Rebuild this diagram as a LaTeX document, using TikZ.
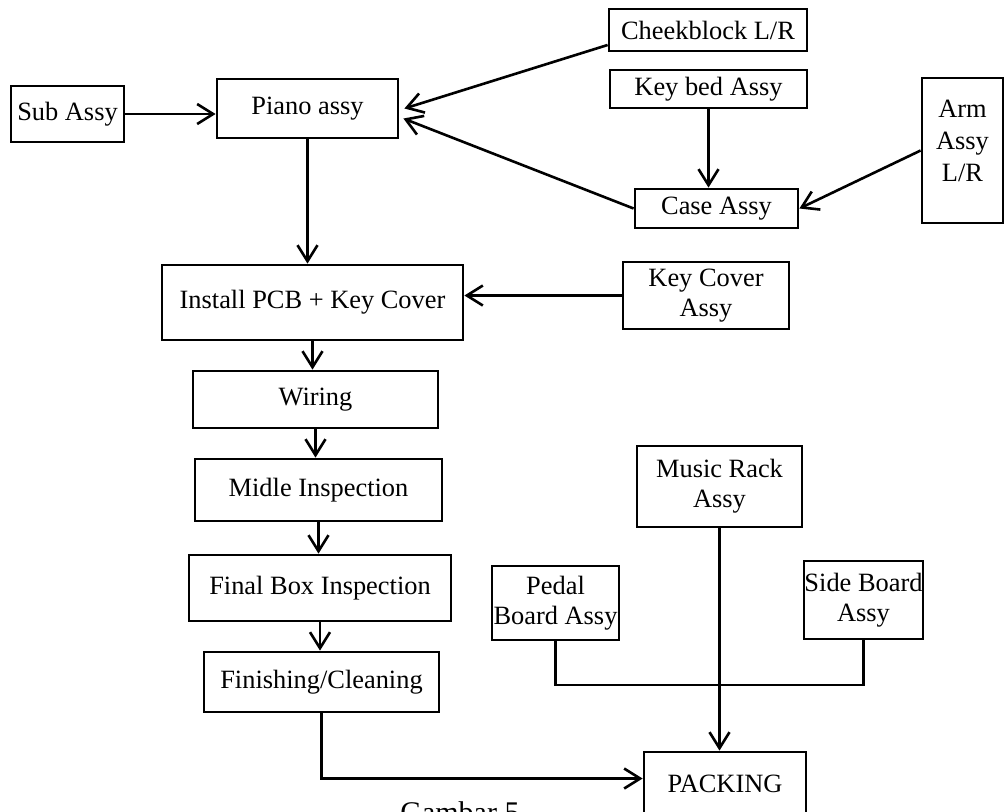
\documentclass[tikz,border=0pt]{standalone}
\usepackage{fontspec}
\setmainfont{Liberation Serif}
\usetikzlibrary{arrows.meta,fit,calc}
\begin{document}
\begin{tikzpicture}[x=0.5pt,y=-0.5pt,
  txt/.style={align=center,inner sep=0pt,font=\fontsize{13.2}{15}\selectfont},
  box/.style={draw,line width=1.4pt,inner sep=0pt,
    label={[txt]center:#1}},
  link/.style={line width=1.3pt},
  arr/.style={link,-{Straight Barb[length=8pt,width=10pt,line width=1.3pt]}}]
\useasboundingbox (0,0) rectangle (1005,811);

% process boxes
\node[box={Sub Assy},fit={(11,86)(124,142)}] (sub) {};
\node[box={Piano assy},fit={(217,79)(398,138)}] (piano) {};
\node[box={Cheekblock L/R},fit={(609,9)(807,51)}] (cheek) {};
\node[box={Key bed Assy},fit={(610,70)(807,108)}] (keybed) {};
\node[box={Case Assy},fit={(635,189)(798,228)}] (case) {};
\node[box={},fit={(922,78)(1003,223)}] (arm) {};
\node[txt,font=\fontsize{13.2}{16}\selectfont] (armtext)
  at ($(arm.center)+(0,-10)$) {Arm\\Assy\\L/R};
\node[box={Install PCB + Key Cover},fit={(162,265)(463,340)}] (install) {};
\node[box={Key Cover\\Assy},fit={(623,262)(789,329)}] (kcover) {};
\node[box={Wiring},fit={(193,371)(438,428)}] (wiring) {};
\node[box={Midle Inspection},fit={(195,459)(442,521)}] (midle) {};
\node[box={Final Box Inspection},fit={(189,555)(451,621)}] (final) {};
\node[box={Finishing/Cleaning},fit={(204,652)(439,712)}] (finish) {};
\node[box={Music Rack\\Assy},fit={(637,446)(802,527)}] (music) {};
\node[box={Pedal\\Board Assy},fit={(492,566)(619,640)}] (pedal) {};
\node[box={Side Board\\Assy},fit={(804,561)(923,639)}] (side) {};
\node[box={PACKING},fit={(644,752)(806,815)}] (pack) {};

% connectors
\draw[arr] (sub.east) -- (sub.east -| piano.west);
\draw[arr] ($(cheek.west)+(0,15)$) -- ($(piano.east)+(5,0)$);
\draw[arr] (case.west) -- ($(piano.east)+(4,10)$);
\draw[arr] (keybed.south) -- (keybed.south |- case.north);
\draw[arr] (arm.west) -- (case.east);
\draw[arr] (piano.south) -- (piano.south |- install.north);
\draw[arr] (kcover.west) -- (kcover.west -| install.east);
\draw[arr] (install.south) -- (install.south |- wiring.north);
\draw[arr] (wiring.south) -- (wiring.south |- midle.north);
\draw[arr] (midle.south) -- (midle.south |- final.north);
\draw[arr] (final.south) -- (final.south |- finish.north);
\draw[arr] (finish.south) |- ($(pack.west)+(0,-5)$);
\draw[arr] (music.south) -- (music.south |- pack.north);
\coordinate (bar) at (0,685);
\draw[link] (pedal.south) |- (side.south |- bar) -- (side.south);

% caption
\node[anchor=base west,inner sep=0pt,font=\fontsize{15}{18}\selectfont] (cap)
  at (400,822) {Gambar 5};
\end{tikzpicture}
\end{document}
